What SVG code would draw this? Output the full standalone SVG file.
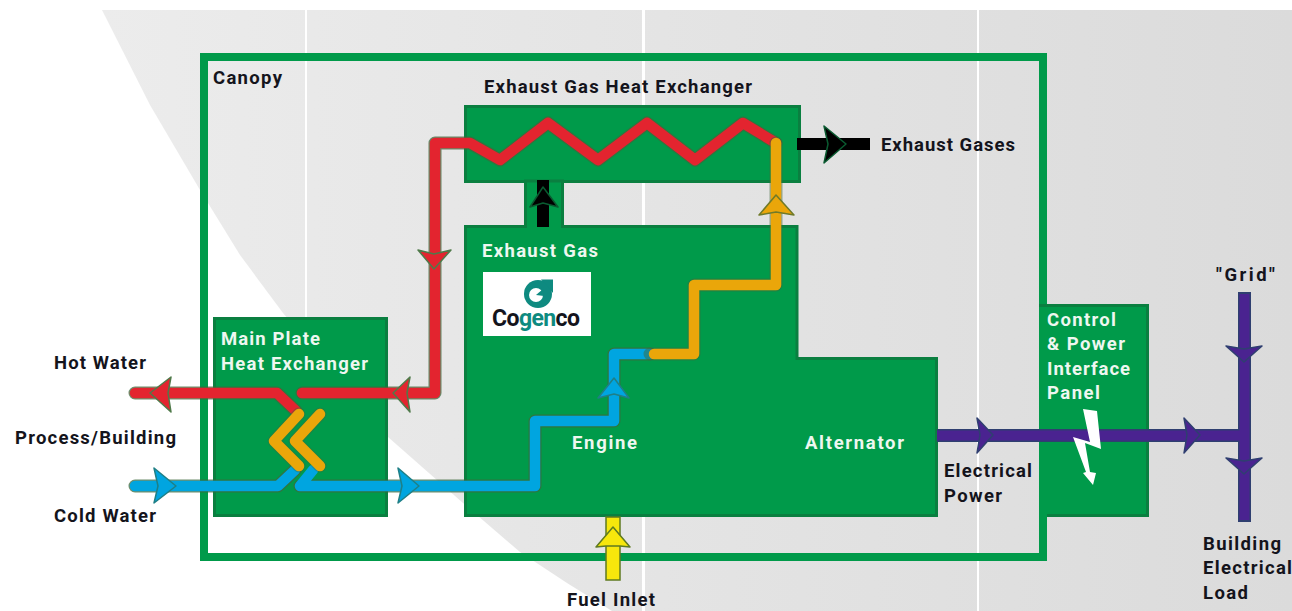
<svg xmlns="http://www.w3.org/2000/svg" width="1292" height="611" viewBox="0 0 1292 611">
<style>
text{font-family:Roboto,"Liberation Sans",sans-serif;font-weight:700;font-size:18.5px;fill:#14141c}
text.w{fill:#eef7f0}
.box{fill:#009a4a;stroke:#0a7f40;stroke-width:3}
.ol{fill:none;stroke:#3f6a3c;stroke-opacity:.75;stroke-width:13;stroke-linejoin:round;stroke-linecap:round}
.p{fill:none;stroke-width:10.5;stroke-linejoin:round;stroke-linecap:round}
.olb{fill:none;stroke:#2f4f7a;stroke-opacity:.6;stroke-width:13}
.red{stroke:#e3242f}.blue{stroke:#00a5e0}.org{stroke:#eaa60a}
.ar{stroke-width:1.5;stroke-linejoin:round}
.ared{fill:#e3242f;stroke:#4f7a4a}.ablue{fill:#00a5e0;stroke:#1f7f86}.aorg{fill:#eaa60a;stroke:#6f7a2a}
.apur{fill:#4a2390;stroke:#2f3f70}.ablk{fill:#000;stroke:#0a5a30}
</style>
<defs><linearGradient id="bg" x1="0" x2="1" y1="0" y2="0"><stop offset="0" stop-color="#ececec"/><stop offset="1" stop-color="#dbdbdb"/></linearGradient></defs>
<g id="background">
<path d="M102 10H1292V611H612L567 583 520 552 463 503 388 437 283 313 240 255 200 190 150 105Z" fill="url(#bg)"/>
<rect x="305" y="10" width="2" height="601" fill="#fff"/><rect x="642" y="10" width="3" height="601" fill="#fff"/><rect x="977" y="10" width="2" height="601" fill="#fff"/>
</g>
<g id="canopy"><rect x="204" y="57" width="839" height="500" fill="none" stroke="#009a4a" stroke-width="8"/><text x="213" y="84" textLength="69">Canopy</text></g>
<g id="control-panel"><rect x="1039" y="304" width="108" height="213" fill="#009a4a"/><path d="M1039 305.500H1147.500V515.500H1047" fill="none" stroke="#0a7f40" stroke-width="3"/></g>
<g id="exhaust-gas-heat-exchanger"><path class="box" d="M526 181.500V226.500H465.500V515.500H936.500V358.500H797.500V226.500H562V181.500Z" style="display:none"/><rect class="box" x="465.500" y="106.500" width="334" height="75"/><text x="484" y="93" textLength="268">Exhaust Gas Heat Exchanger</text></g>
<g id="engine-alternator"><path class="box" d="M465.500 226.500H525.500V181H562.500V226.500H797V358.500H936.500V515.500H465.500Z"/></g>
<g id="main-plate-heat-exchanger"><rect class="box" x="214.500" y="318.500" width="172" height="197"/></g>
<g id="logo"><rect x="483" y="272" width="108" height="64" fill="#fff"/>
<circle cx="538" cy="294" r="14" fill="#0e8a80"/><path d="M541 279.500H553V293L548 287Z" fill="#0e8a80"/><circle cx="536" cy="295" r="7" fill="#fff"/><path d="M536 295L543 289 544 296Z" fill="#0e8a80"/>
<text x="492" y="326" font-size="23" style="font-size:23px" textLength="88">Co<tspan style="fill:#0e8a80">gen</tspan>co</text></g>
<g id="connectors">
<path class="ol" d="M135 393H277L296 411M302 393H435V143H470L500 160 548 123 598 160 647 123 695 160 743 123 776 143"/>
<path class="p red" d="M135 393H277L296 411M302 393H435V143H470L500 160 548 123 598 160 647 123 695 160 743 123 776 143"/>
<path class="ol" d="M135 486H278L295 470M300 486H535V421H614V354H650"/>
<path class="p blue" d="M135 486H278L295 470M300 486H535V421H614V354H650M300 486L313 470"/>
<path class="ol" d="M650 354H694V285H776V143" style="stroke-opacity:.5"/>
<path class="p org" d="M654 354H694V285H776V143"/>
<path class="ol" d="M299 414L274 441 299 466M320 414L295 441 320 466" style="stroke-opacity:.4"/>
<path class="p org" d="M299 414L274 441 299 466M320 414L295 441 320 466"/>
<polygon class="ar ared" points="150,393 171,377 168,393 171,412"/>
<polygon class="ar ared" points="393,393 410,377 407,393 410,412"/>
<polygon class="ar ared" points="434,269 418,250 434,254 451,250"/>
<polygon class="ar ablue" points="176,486 154,468 158,486 154,503"/>
<polygon class="ar ablue" points="419,486 398,468 402,486 398,503"/>
<polygon class="ar ablue" points="614,378 598,398 614,394 629,398"/>
<polygon class="ar aorg" points="776,195 759,215 776,212 794,215"/>
<rect x="606" y="517" width="14" height="63" fill="#f7e70c" stroke="#5f7a20" stroke-width="1.500"/>
<polygon points="613,527 596,547 606,546 620,546 630,547" fill="#f7e70c" stroke="#5f7a20" stroke-width="1.500" stroke-linejoin="round"/>
<rect x="537" y="180" width="12" height="47" fill="#000"/>
<polygon class="ar ablk" points="543,187 530,207 543,203 558,207"/>
<rect x="797" y="138" width="73" height="12" fill="#000"/>
<polygon class="ar ablk" points="846,144 824,126 828,144 824,163"/>
<path d="M937 435.500H1244.500M1244.500 292V522" fill="none" stroke="#2f3f70" stroke-width="13"/>
<path d="M937 435.500H1240M1244.500 294V520" fill="none" stroke="#4a2390" stroke-width="10"/>
<polygon class="ar apur" points="993,435 977,418 980,435 977,453"/>
<polygon class="ar apur" points="1200,435 1184,418 1187,435 1184,453"/>
<polygon class="ar apur" points="1244,362 1226,346 1244,349 1262,346"/>
<polygon class="ar apur" points="1244,474 1226,458 1244,461 1262,458"/>
<polygon fill="#fff" points="1083,409 1097,411 1101,449 1085,443 1090,472 1096,473 1093,485 1083,473 1086,472 1073,437 1090,442"/>
</g>
<g id="labels">
<text class="w" x="482" y="257" textLength="116">Exhaust Gas</text>
<text class="w" x="221" y="345" textLength="99">Main Plate</text>
<text class="w" x="221" y="370" textLength="147">Heat Exchanger</text>
<text class="w" x="572" y="449" textLength="65">Engine</text>
<text class="w" x="805" y="449" textLength="99">Alternator</text>
<text class="w" x="1047" y="326" textLength="69">Control</text>
<text class="w" x="1047" y="350" textLength="78">&amp; Power</text>
<text class="w" x="1047" y="375" textLength="83">Interface</text>
<text class="w" x="1047" y="399" textLength="53">Panel</text>
<text x="881" y="151" textLength="134">Exhaust Gases</text>
<text x="54" y="369" textLength="92">Hot Water</text>
<text x="15" y="444" textLength="161">Process/Building</text>
<text x="54" y="522" textLength="102">Cold Water</text>
<text x="944" y="477" textLength="88">Electrical</text>
<text x="944" y="502" textLength="58">Power</text>
<text x="1216" y="281" textLength="59">"Grid"</text>
<text x="1203" y="550" textLength="78">Building</text>
<text x="1203" y="574" textLength="89">Electrical</text>
<text x="1203" y="599" textLength="45">Load</text>
<text x="567" y="606" textLength="88">Fuel Inlet</text>
</g>
</svg>
